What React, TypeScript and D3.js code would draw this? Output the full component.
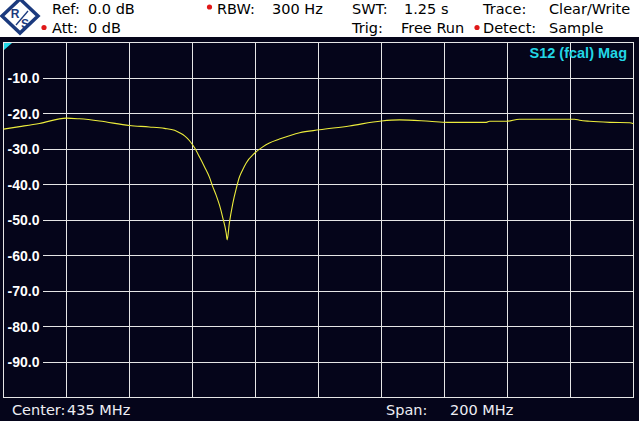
import React, { useEffect, useRef } from "react";
import * as d3 from "d3";

// trace (MHz / dB)
const freqMHz = [335.0, 340.1, 346.4, 355.0, 359.1, 365.5, 375.0, 381.3, 386.1, 389.3, 390.9, 392.5, 394.0, 395.6, 397.2, 398.8, 400.4, 401.3, 402.5, 403.6, 404.6, 405.7, 406.0, 406.7, 407.8, 408.9, 409.9, 410.9, 412.0, 414.7, 417.3, 419.4, 422.6, 429.0, 435.3, 444.8, 455.0, 460.7, 470.2, 476.0, 488.3, 489.3, 494.7, 498.8, 516.3, 517.9, 521.1, 527.5, 533.8, 535.0];
const magDb = [-24.4, -23.7, -22.8, -21.3, -21.5, -22.1, -23.4, -23.8, -24.2, -24.7, -25.4, -26.3, -27.6, -29.6, -32.2, -35.0, -38.0, -40.3, -43.0, -45.9, -49.3, -53.7, -55.6, -50.9, -45.3, -41.1, -37.9, -35.9, -34.0, -31.2, -29.4, -28.3, -27.2, -25.4, -24.6, -23.5, -22.1, -21.8, -22.2, -22.5, -22.5, -22.2, -22.2, -21.6, -21.6, -21.9, -22.2, -22.5, -22.6, -22.9];

const yTicks = [-10, -20, -30, -40, -50, -60, -70, -80, -90];
const xTicks = [355, 375, 395, 415, 435, 455, 475, 495, 515];

const header = [
  { x: 52, y: 13.5, text: "Ref:" },
  { x: 88, y: 13.5, text: "0.0 dB" },
  { x: 52, y: 33, text: "Att:" },
  { x: 88, y: 33, text: "0 dB" },
  { x: 217, y: 13.5, text: "RBW:" },
  { x: 272, y: 13.5, text: "300 Hz" },
  { x: 352, y: 13.5, text: "SWT:" },
  { x: 404, y: 13.5, text: "1.25 s" },
  { x: 483, y: 13.5, text: "Trace:" },
  { x: 549, y: 13.5, text: "Clear/Write" },
  { x: 352, y: 33, text: "Trig:" },
  { x: 401, y: 33, text: "Free Run" },
  { x: 483, y: 33, text: "Detect:" },
  { x: 549, y: 33, text: "Sample" },
];
const redDots = [[44, 27.5], [209.5, 7], [477, 27.5]];

const footer = [
  { x: 12, text: "Center:" },
  { x: 67, text: "435 MHz" },
  { x: 386, text: "Span:" },
  { x: 450, text: "200 MHz" },
];

const W = 639;
const H = 421;

function App() {
  const svgRef = useRef(null);

  useEffect(() => {
    const svg = d3.select(svgRef.current);
    svg.selectAll("*").remove();

    const xScale = d3.scaleLinear().domain([335, 535]).range([3.5, 633.5]);
    const yScale = d3.scaleLinear().domain([-100, 0]).range([397.5, 42.5]);
    const crisp = v => Math.floor(v) + 0.5;

    // backgrounds
    svg.append("rect").attr("width", W).attr("height", H).attr("fill", "#05051a");
    svg.append("rect").attr("width", W).attr("height", 37).attr("fill", "#ffffff");

    // logo
    const logo = svg.append("g").attr("transform", "translate(20,16)");
    logo.append("path")
      .attr("d", "M0,-17 L18,0 L0,17 L-18,0 Z")
      .attr("fill", "#ffffff")
      .attr("stroke", "#1b3a7e")
      .attr("stroke-width", 3.5);
    logo.append("line")
      .attr("x1", -4).attr("y1", 9).attr("x2", 8).attr("y2", -5)
      .attr("stroke", "#1b3a7e").attr("stroke-width", 1.3);
    logo.append("text").attr("x", -5).attr("y", 2).attr("text-anchor", "middle")
      .attr("font-family", "Liberation Sans").attr("font-weight", "bold").attr("font-size", 12)
      .attr("fill", "#1b3a7e").text("R");
    logo.append("text").attr("x", 5).attr("y", 12).attr("text-anchor", "middle")
      .attr("font-family", "Liberation Sans").attr("font-weight", "bold").attr("font-size", 12)
      .attr("fill", "#1b3a7e").text("S");

    // header texts
    svg.append("g")
      .selectAll("text")
      .data(header)
      .join("text")
      .attr("x", d => d.x)
      .attr("y", d => d.y)
      .attr("font-family", "DejaVu Sans")
      .attr("font-size", 14.5)
      .attr("fill", "#000000")
      .text(d => d.text);
    svg.append("g")
      .selectAll("circle")
      .data(redDots)
      .join("circle")
      .attr("cx", d => d[0])
      .attr("cy", d => d[1])
      .attr("r", 2.6)
      .attr("fill", "#e01818");

    // grid
    const gridColor = "#e6e6e6";
    svg.append("g")
      .selectAll("line")
      .data(yTicks)
      .join("line")
      .attr("x1", 43)
      .attr("x2", xScale(535))
      .attr("y1", d => crisp(yScale(d)))
      .attr("y2", d => crisp(yScale(d)))
      .attr("stroke", gridColor);
    svg.append("g")
      .selectAll("line")
      .data(xTicks)
      .join("line")
      .attr("x1", d => crisp(xScale(d)))
      .attr("x2", d => crisp(xScale(d)))
      .attr("y1", yScale(0))
      .attr("y2", yScale(-100))
      .attr("stroke", gridColor);
    svg.append("rect")
      .attr("x", xScale(335))
      .attr("y", yScale(0))
      .attr("width", xScale(535) - xScale(335))
      .attr("height", yScale(-100) - yScale(0))
      .attr("fill", "none")
      .attr("stroke", gridColor);

    // y labels
    svg.append("g")
      .selectAll("text")
      .data(yTicks)
      .join("text")
      .attr("x", 39.5)
      .attr("y", d => yScale(d) + 5)
      .attr("text-anchor", "end")
      .attr("font-family", "Liberation Sans")
      .attr("font-weight", "bold")
      .attr("font-size", 14)
      .attr("fill", "#ffffff")
      .text(d => d.toFixed(1));

    // corner marker
    svg.append("path")
      .attr("d", "M4,43 L12,43 L4,50 Z")
      .attr("fill", "#22d6e6");

    svg.append("text")
      .attr("x", 627)
      .attr("y", 57.5)
      .attr("text-anchor", "end")
      .attr("font-family", "Liberation Sans")
      .attr("font-weight", "bold")
      .attr("font-size", 14.5)
      .attr("fill", "#22d6e6")
      .text("S12 (fcal) Mag");

    // trace
    const line = d3.line()
      .x((d, i) => xScale(freqMHz[i]))
      .y(d => yScale(d))
      .curve(d3.curveMonotoneX);
    svg.append("path")
      .datum(magDb)
      .attr("d", line)
      .attr("fill", "none")
      .attr("stroke", "#ecec3c")
      .attr("stroke-width", 1.1);

    // footer
    svg.append("g")
      .selectAll("text")
      .data(footer)
      .join("text")
      .attr("x", d => d.x)
      .attr("y", 415)
      .attr("font-family", "DejaVu Sans")
      .attr("font-size", 14.5)
      .attr("fill", "#eeeef4")
      .text(d => d.text);
  }, []);

  return (
    <svg
      ref={svgRef}
      width={W}
      height={H}
      style={{ position: "fixed", left: 0, top: 0, display: "block" }}
    />
  );
}

export default App;
